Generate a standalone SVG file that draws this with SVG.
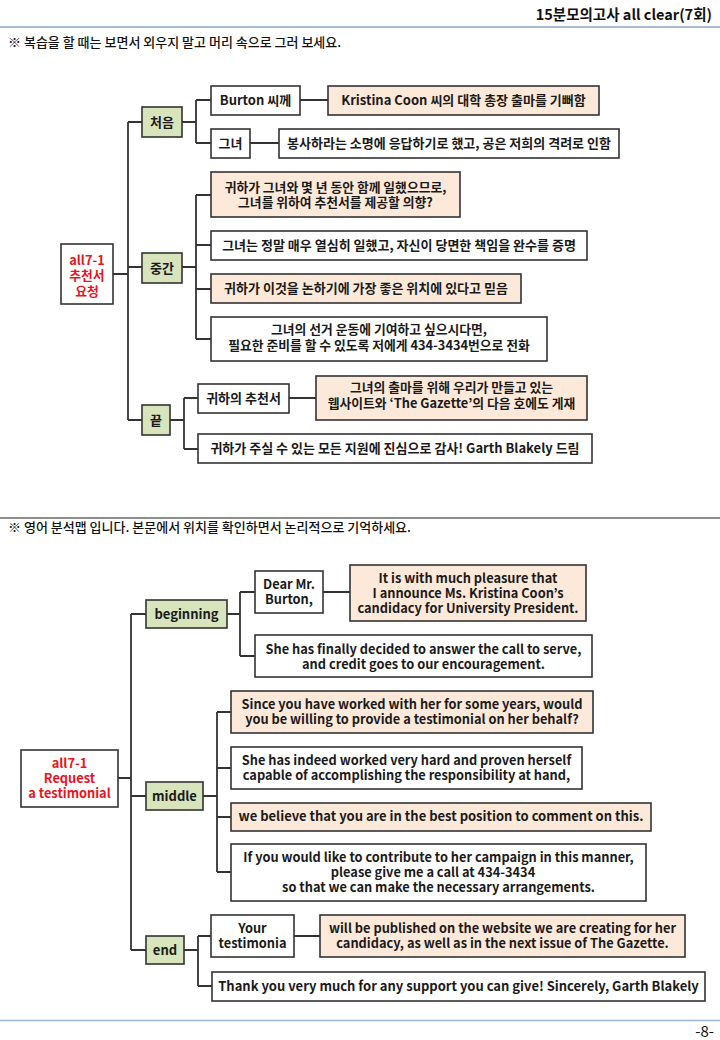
<svg xmlns="http://www.w3.org/2000/svg" width="720" height="1040" viewBox="0 0 720 1040">
<style>
.bx{stroke:#333;stroke-width:1.6;fill:#fff}
.g{fill:#d8e4bc}
.p{fill:#fde9d9}
.ln{stroke:#333;stroke-width:1.8;fill:none}
.t{font-family:"Noto Sans CJK KR","Noto Sans",sans-serif;font-size:13px;font-weight:bold;fill:#1a1a1a;text-anchor:middle}
.m{font-size:12.8px}
.r{fill:#e8141e}
.h{font-family:"Noto Sans CJK KR","Noto Sans",sans-serif;font-size:13px;font-weight:500;fill:#111}
</style>
<rect width="720" height="1040" fill="#fff"/>
<g id="header">
<text x="712" y="20" class="h" style="font-size:14.5px;font-weight:bold;text-anchor:end">15분모의고사 all clear(7회)</text>
<line x1="0" y1="27" x2="720" y2="27" stroke="#a7bcd2" stroke-width="2"/>
<text x="8" y="47" class="h">※ 복습을 할 때는 보면서 외우지 말고 머리 속으로 그러 보세요.</text>
<line x1="0" y1="518" x2="720" y2="518" stroke="#666" stroke-width="1.4"/>
<text x="8" y="532" class="h">※ 영어 분석맵 입니다.  본문에서 위치를 확인하면서 논리적으로 기억하세요.</text>
<line x1="0" y1="1020.5" x2="720" y2="1020.5" stroke="#9db7d2" stroke-width="1.5"/>
<text x="714" y="1037" class="h" style="text-anchor:end;font-size:15px;font-weight:normal">-8-</text>
</g>
<g id="connectors">
<path class="ln" d="M113 274H128M128 122V420M128 122H142M128 267H142M128 420H142"/>
<path class="ln" d="M182 122H196M196 100V143M196 100H211M196 143H211M300 100H328M250 143H279"/>
<path class="ln" d="M182 267H196M196 195V339M196 195H211M196 245H211M196 289H211M196 339H211"/>
<path class="ln" d="M170 420H184M184 398V449M184 398H198M184 449H198M289 398H316"/>
<path class="ln" d="M118 778H131M131 614V950M131 614H146M131 796H146M131 950H146"/>
<path class="ln" d="M227 614H240M240 592V656M240 592H255M240 656H255M323 592H350"/>
<path class="ln" d="M203 796H217M217 712V872M217 712H231M217 768H231M217 817H231M217 872H231"/>
<path class="ln" d="M184 950H198M198 936V986M198 936H211M198 986H212M294 936H320"/>
</g>
<g id="t-root"><rect class="bx" x="61" y="244" width="52" height="60"/><text class="t m r"><tspan x="87" y="264.5">all7-1</tspan><tspan x="87" y="280">추천서</tspan><tspan x="87" y="295.5">요청</tspan></text></g>
<g id="t-begin"><rect class="bx g" x="142" y="107" width="40" height="30"/><text class="t" x="162" y="126.5">처음</text></g>
<g id="t-mid"><rect class="bx g" x="142" y="253" width="40" height="30"/><text class="t" x="162" y="272.5">중간</text></g>
<g id="t-end"><rect class="bx g" x="142" y="405" width="28" height="30"/><text class="t" x="156" y="424.5">끝</text></g>
<g id="t-burton"><rect class="bx" x="211" y="86" width="89" height="29"/><text class="t" x="255.5" y="105">Burton 씨께</text></g>
<g id="t-kristina"><rect class="bx p" x="328" y="86" width="271" height="29"/><text class="t" x="463.5" y="105">Kristina Coon 씨의 대학 총장 출마를 기뻐함</text></g>
<g id="t-she"><rect class="bx" x="211" y="129" width="39" height="29"/><text class="t" x="230.5" y="148">그녀</text></g>
<g id="t-serve"><rect class="bx" x="279" y="129" width="340" height="29"/><text class="t" x="449" y="148">봉사하라는 소명에 응답하기로 했고, 공은 저희의 격려로 인함</text></g>
<g id="t-since"><rect class="bx p" x="211" y="172" width="249" height="45"/><text class="t m"><tspan x="335.5" y="191.5">귀하가 그녀와 몇 년 동안 함께 일했으므로,</tspan><tspan x="335.5" y="207">그녀를 위하여 추천서를 제공할 의향?</tspan></text></g>
<g id="t-indeed"><rect class="bx" x="211" y="231" width="376" height="29"/><text class="t" x="399" y="250">그녀는 정말 매우 열심히 일했고, 자신이 당면한 책임을 완수를 증명</text></g>
<g id="t-believe"><rect class="bx p" x="211" y="274" width="310" height="29"/><text class="t" x="366" y="293">귀하가 이것을 논하기에 가장 좋은 위치에 있다고 믿음</text></g>
<g id="t-call"><rect class="bx" x="211" y="317" width="336" height="44"/><text class="t m"><tspan x="379" y="334">그녀의 선거 운동에 기여하고 싶으시다면,</tspan><tspan x="379" y="350">필요한 준비를 할 수 있도록 저에게 434-3434번으로 전화</tspan></text></g>
<g id="t-yours"><rect class="bx" x="198" y="384" width="91" height="29"/><text class="t" x="243.5" y="403">귀하의 추천서</text></g>
<g id="t-publish"><rect class="bx p" x="316" y="376" width="271" height="44"/><text class="t m"><tspan x="451.5" y="392">그녀의 출마를 위해 우리가 만들고 있는</tspan><tspan x="451.5" y="408">웹사이트와 ‘The Gazette’의 다음 호에도 게재</tspan></text></g>
<g id="t-thanks"><rect class="bx" x="198" y="434" width="394" height="29"/><text class="t" x="395" y="453">귀하가 주실 수 있는 모든 지원에 진심으로 감사! Garth Blakely 드림</text></g>
<g id="e-root"><rect class="bx" x="21" y="750" width="97" height="57"/><text class="t m r"><tspan x="69.5" y="767.5">all7-1</tspan><tspan x="69.5" y="782.5">Request</tspan><tspan x="69.5" y="797.5">a testimonial</tspan></text></g>
<g id="e-begin"><rect class="bx g" x="146" y="600" width="81" height="28"/><text class="t" x="186.5" y="619">beginning</text></g>
<g id="e-mid"><rect class="bx g" x="146" y="782" width="57" height="28"/><text class="t" x="174.5" y="801">middle</text></g>
<g id="e-end"><rect class="bx g" x="146" y="936" width="38" height="28"/><text class="t" x="165" y="955">end</text></g>
<g id="e-dear"><rect class="bx" x="255" y="571" width="68" height="42"/><text class="t m"><tspan x="289" y="589">Dear Mr.</tspan><tspan x="289" y="604">Burton,</tspan></text></g>
<g id="e-pleasure"><rect class="bx p" x="350" y="565" width="236" height="56"/><text class="t m"><tspan x="468" y="582.5">It is with much pleasure that</tspan><tspan x="468" y="597.5">I announce Ms. Kristina Coon’s</tspan><tspan x="468" y="612.5">candidacy for University President.</tspan></text></g>
<g id="e-finally"><rect class="bx" x="255" y="635" width="337" height="42"/><text class="t m"><tspan x="423.5" y="653.5">She has finally decided to answer the call to serve,</tspan><tspan x="423.5" y="668.5">and credit goes to our encouragement.</tspan></text></g>
<g id="e-since"><rect class="bx p" x="231" y="691" width="362" height="42"/><text class="t m"><tspan x="412" y="709">Since you have worked with her for some years, would</tspan><tspan x="412" y="724">you be willing to provide a testimonial on her behalf?</tspan></text></g>
<g id="e-indeed"><rect class="bx" x="231" y="747" width="351" height="42"/><text class="t m"><tspan x="406.5" y="765">She has indeed worked very hard and proven herself</tspan><tspan x="406.5" y="780">capable of accomplishing the responsibility at hand,</tspan></text></g>
<g id="e-believe"><rect class="bx p" x="231" y="803" width="420" height="28"/><text class="t" x="441" y="821">we believe that you are in the best position to comment on this.</text></g>
<g id="e-call"><rect class="bx" x="231" y="844" width="415" height="57"/><text class="t m"><tspan x="438.5" y="862">If you would like to contribute to her campaign in this manner,</tspan><tspan x="433" y="877">please give me a call at 434-3434</tspan><tspan x="438.5" y="892">so that we can make the necessary arrangements.</tspan></text></g>
<g id="e-your"><rect class="bx" x="211" y="915" width="83" height="42"/><text class="t m"><tspan x="252.5" y="933">Your</tspan><tspan x="252.5" y="948">testimonia</tspan></text></g>
<g id="e-publish"><rect class="bx p" x="320" y="915" width="365" height="42"/><text class="t m"><tspan x="502.5" y="933">will be published on the website we are creating for her</tspan><tspan x="502.5" y="948">candidacy, as well as in the next issue of The Gazette.</tspan></text></g>
<g id="e-thanks"><rect class="bx" x="212" y="972" width="493" height="29"/><text class="t" x="458.5" y="990.5">Thank you very much for any support you can give! Sincerely, Garth Blakely</text></g>
</svg>
